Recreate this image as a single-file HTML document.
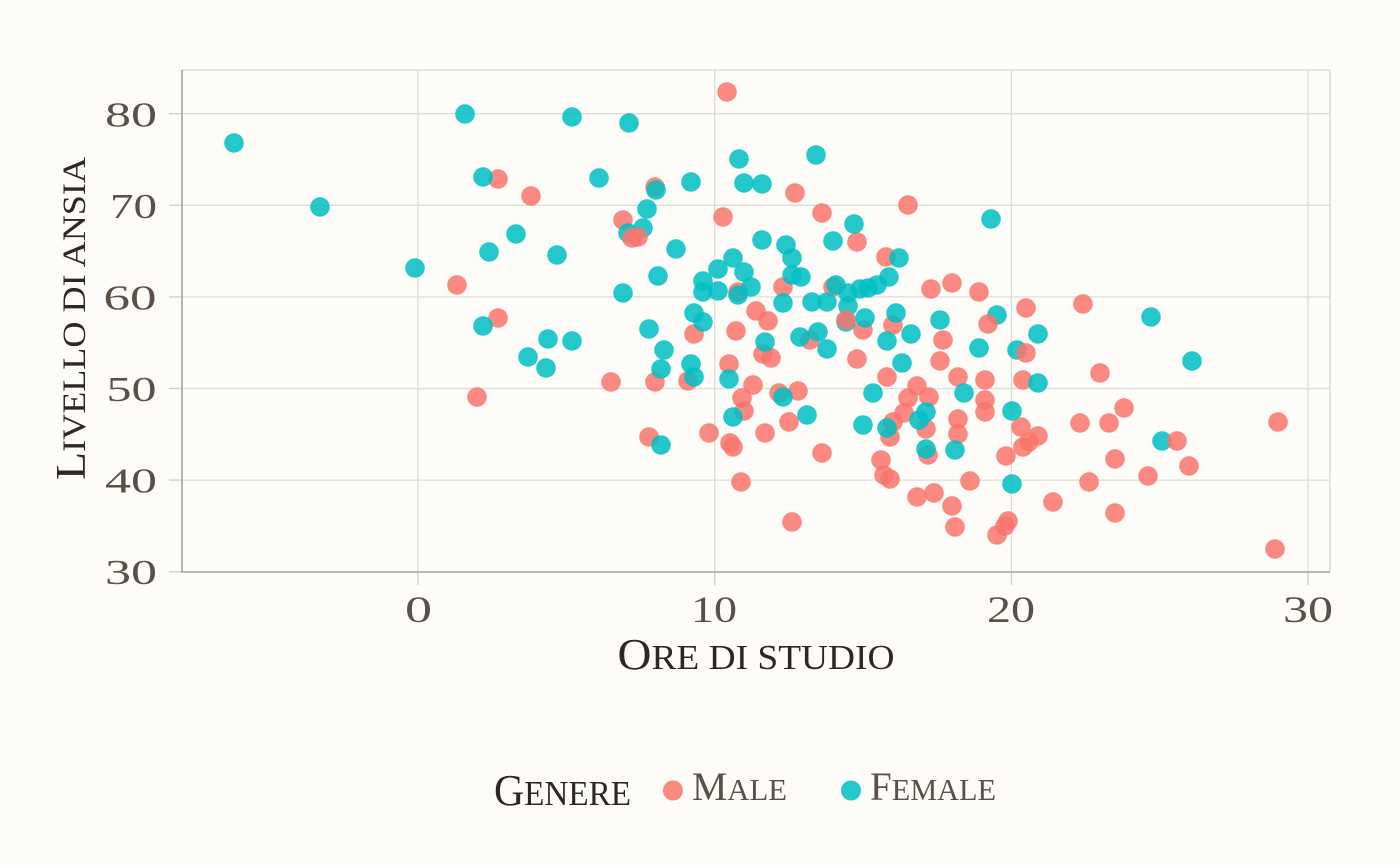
<!DOCTYPE html>
<html>
<head>
<meta charset="utf-8">
<style>
html,body{margin:0;padding:0;background:#fdfcf8;}
svg{display:block;}
text{font-family:"Liberation Serif",serif;}
</style>
</head>
<body>
<svg width="1400" height="865" viewBox="0 0 1400 865" xmlns="http://www.w3.org/2000/svg">
<rect x="0" y="0" width="1400" height="865" fill="#fdfcf8"/>
<g stroke="#dddcd8" stroke-width="1.3">
<line x1="182" y1="113.7" x2="1330" y2="113.7"/>
<line x1="182" y1="205.3" x2="1330" y2="205.3"/>
<line x1="182" y1="296.9" x2="1330" y2="296.9"/>
<line x1="182" y1="388.5" x2="1330" y2="388.5"/>
<line x1="182" y1="480.1" x2="1330" y2="480.1"/>
<line x1="418" y1="70" x2="418" y2="572"/>
<line x1="714.7" y1="70" x2="714.7" y2="572"/>
<line x1="1011.4" y1="70" x2="1011.4" y2="572"/>
<line x1="1308.1" y1="70" x2="1308.1" y2="572"/>
</g>
<g stroke="#d6d5d1" stroke-width="1.3" fill="none">
<line x1="182" y1="70" x2="1330" y2="70"/>
<line x1="1330" y1="70" x2="1330" y2="572"/>
</g>
<g stroke="#cfcecA" stroke-width="1.3">
<line x1="169" y1="113.7" x2="182" y2="113.7"/>
<line x1="169" y1="205.3" x2="182" y2="205.3"/>
<line x1="169" y1="296.9" x2="182" y2="296.9"/>
<line x1="169" y1="388.5" x2="182" y2="388.5"/>
<line x1="169" y1="480.1" x2="182" y2="480.1"/>
<line x1="169" y1="571.7" x2="182" y2="571.7"/>
<line x1="418" y1="572" x2="418" y2="585"/>
<line x1="714.7" y1="572" x2="714.7" y2="585"/>
<line x1="1011.4" y1="572" x2="1011.4" y2="585"/>
<line x1="1308.1" y1="572" x2="1308.1" y2="585"/>
</g>
<g stroke="#adaca8" stroke-width="1.8">
<line x1="182" y1="70" x2="182" y2="572"/>
<line x1="181" y1="572" x2="1330" y2="572"/>
</g>

<g fill="#F8766D" fill-opacity="0.86">
<circle cx="498" cy="179" r="9.8"/><circle cx="531" cy="196" r="9.8"/><circle cx="457" cy="285" r="9.8"/><circle cx="498" cy="318" r="9.8"/>
<circle cx="477" cy="397" r="9.8"/><circle cx="727" cy="92" r="9.8"/><circle cx="655" cy="187" r="9.8"/><circle cx="795" cy="193" r="9.8"/>
<circle cx="623" cy="220" r="9.8"/><circle cx="723" cy="217" r="9.8"/><circle cx="822" cy="213" r="9.8"/><circle cx="857" cy="242" r="9.8"/>
<circle cx="738" cy="292" r="9.8"/><circle cx="783" cy="287" r="9.8"/><circle cx="833" cy="287" r="9.8"/><circle cx="863" cy="330" r="9.8"/>
<circle cx="756" cy="311" r="9.8"/><circle cx="768" cy="321" r="9.8"/><circle cx="694" cy="334" r="9.8"/><circle cx="736" cy="331" r="9.8"/>
<circle cx="688" cy="381" r="9.8"/><circle cx="655" cy="382" r="9.8"/><circle cx="611" cy="382" r="9.8"/><circle cx="763" cy="354" r="9.8"/>
<circle cx="771" cy="358" r="9.8"/><circle cx="810" cy="340" r="9.8"/><circle cx="857" cy="359" r="9.8"/><circle cx="729" cy="364" r="9.8"/>
<circle cx="753" cy="385" r="9.8"/><circle cx="742" cy="398" r="9.8"/><circle cx="744" cy="411" r="9.8"/><circle cx="779" cy="393" r="9.8"/>
<circle cx="798" cy="391" r="9.8"/><circle cx="789" cy="422" r="9.8"/><circle cx="649" cy="437" r="9.8"/><circle cx="709" cy="433" r="9.8"/>
<circle cx="730" cy="443" r="9.8"/><circle cx="733" cy="447" r="9.8"/><circle cx="765" cy="433" r="9.8"/><circle cx="822" cy="453" r="9.8"/>
<circle cx="741" cy="482" r="9.8"/><circle cx="792" cy="522" r="9.8"/><circle cx="908" cy="205" r="9.8"/><circle cx="886" cy="257" r="9.8"/>
<circle cx="931" cy="289" r="9.8"/><circle cx="952" cy="283" r="9.8"/><circle cx="979" cy="292" r="9.8"/><circle cx="1026" cy="308" r="9.8"/>
<circle cx="1083" cy="304" r="9.8"/><circle cx="893" cy="325" r="9.8"/><circle cx="943" cy="340" r="9.8"/><circle cx="940" cy="361" r="9.8"/>
<circle cx="887" cy="377" r="9.8"/><circle cx="958" cy="377" r="9.8"/><circle cx="985" cy="380" r="9.8"/><circle cx="985" cy="400" r="9.8"/>
<circle cx="985" cy="412" r="9.8"/><circle cx="1023" cy="380" r="9.8"/><circle cx="1100" cy="373" r="9.8"/><circle cx="917" cy="386" r="9.8"/>
<circle cx="908" cy="398" r="9.8"/><circle cx="929" cy="397" r="9.8"/><circle cx="904" cy="413" r="9.8"/><circle cx="926" cy="429" r="9.8"/>
<circle cx="893" cy="422" r="9.8"/><circle cx="890" cy="437" r="9.8"/><circle cx="958" cy="419" r="9.8"/><circle cx="958" cy="434" r="9.8"/>
<circle cx="928" cy="455" r="9.8"/><circle cx="1021" cy="427" r="9.8"/><circle cx="1038" cy="436" r="9.8"/><circle cx="1029" cy="442" r="9.8"/>
<circle cx="1023" cy="447" r="9.8"/><circle cx="1006" cy="456" r="9.8"/><circle cx="1080" cy="423" r="9.8"/><circle cx="1109" cy="423" r="9.8"/>
<circle cx="1124" cy="408" r="9.8"/><circle cx="1115" cy="459" r="9.8"/><circle cx="1148" cy="476" r="9.8"/><circle cx="1089" cy="482" r="9.8"/>
<circle cx="1053" cy="502" r="9.8"/><circle cx="1115" cy="513" r="9.8"/><circle cx="881" cy="460" r="9.8"/><circle cx="884" cy="475" r="9.8"/>
<circle cx="890" cy="479" r="9.8"/><circle cx="970" cy="481" r="9.8"/><circle cx="917" cy="497" r="9.8"/><circle cx="934" cy="493" r="9.8"/>
<circle cx="952" cy="506" r="9.8"/><circle cx="955" cy="527" r="9.8"/><circle cx="1008" cy="521" r="9.8"/><circle cx="1005" cy="526" r="9.8"/>
<circle cx="997" cy="535" r="9.8"/><circle cx="1278" cy="422" r="9.8"/><circle cx="1189" cy="466" r="9.8"/><circle cx="1275" cy="549" r="9.8"/>
</g>

<g fill="#00BFC4" fill-opacity="0.86">
<circle cx="234" cy="143" r="9.8"/><circle cx="320" cy="207" r="9.8"/><circle cx="465" cy="114" r="9.8"/><circle cx="572" cy="117" r="9.8"/>
<circle cx="483" cy="177" r="9.8"/><circle cx="516" cy="234" r="9.8"/><circle cx="489" cy="252" r="9.8"/><circle cx="557" cy="255" r="9.8"/>
<circle cx="415" cy="268" r="9.8"/><circle cx="483" cy="326" r="9.8"/><circle cx="548" cy="339" r="9.8"/><circle cx="572" cy="341" r="9.8"/>
<circle cx="528" cy="357" r="9.8"/><circle cx="546" cy="368" r="9.8"/><circle cx="629" cy="123" r="9.8"/><circle cx="739" cy="159" r="9.8"/>
<circle cx="816" cy="155" r="9.8"/><circle cx="599" cy="178" r="9.8"/><circle cx="656" cy="190" r="9.8"/><circle cx="691" cy="182" r="9.8"/>
<circle cx="744" cy="183" r="9.8"/><circle cx="762" cy="184" r="9.8"/><circle cx="647" cy="209" r="9.8"/><circle cx="854" cy="224" r="9.8"/>
<circle cx="628" cy="233" r="9.8"/><circle cx="643" cy="228" r="9.8"/><circle cx="676" cy="249" r="9.8"/><circle cx="762" cy="240" r="9.8"/>
<circle cx="786" cy="245" r="9.8"/><circle cx="792" cy="258" r="9.8"/><circle cx="833" cy="241" r="9.8"/><circle cx="733" cy="258" r="9.8"/>
<circle cx="718" cy="269" r="9.8"/><circle cx="658" cy="276" r="9.8"/><circle cx="744" cy="272" r="9.8"/><circle cx="623" cy="293" r="9.8"/>
<circle cx="703" cy="281" r="9.8"/><circle cx="703" cy="292" r="9.8"/><circle cx="718" cy="291" r="9.8"/><circle cx="738" cy="295" r="9.8"/>
<circle cx="751" cy="287" r="9.8"/><circle cx="792" cy="275" r="9.8"/><circle cx="801" cy="277" r="9.8"/><circle cx="783" cy="303" r="9.8"/>
<circle cx="812" cy="302" r="9.8"/><circle cx="827" cy="302" r="9.8"/><circle cx="836" cy="285" r="9.8"/><circle cx="848" cy="293" r="9.8"/>
<circle cx="860" cy="289" r="9.8"/><circle cx="868" cy="288" r="9.8"/><circle cx="848" cy="306" r="9.8"/><circle cx="846" cy="322" r="9.8"/>
<circle cx="865" cy="318" r="9.8"/><circle cx="694" cy="313" r="9.8"/><circle cx="703" cy="322" r="9.8"/><circle cx="649" cy="329" r="9.8"/>
<circle cx="664" cy="350" r="9.8"/><circle cx="661" cy="369" r="9.8"/><circle cx="691" cy="364" r="9.8"/><circle cx="694" cy="377" r="9.8"/>
<circle cx="765" cy="342" r="9.8"/><circle cx="800" cy="337" r="9.8"/><circle cx="818" cy="332" r="9.8"/><circle cx="827" cy="349" r="9.8"/>
<circle cx="729" cy="379" r="9.8"/><circle cx="733" cy="417" r="9.8"/><circle cx="783" cy="397" r="9.8"/><circle cx="807" cy="415" r="9.8"/>
<circle cx="873" cy="393" r="9.8"/><circle cx="863" cy="425" r="9.8"/><circle cx="661" cy="445" r="9.8"/><circle cx="991" cy="219" r="9.8"/>
<circle cx="899" cy="258" r="9.8"/><circle cx="889" cy="277" r="9.8"/><circle cx="877" cy="285" r="9.8"/><circle cx="896" cy="313" r="9.8"/>
<circle cx="911" cy="334" r="9.8"/><circle cx="887" cy="341" r="9.8"/><circle cx="940" cy="320" r="9.8"/><circle cx="997" cy="315" r="9.8"/>
<circle cx="1038" cy="334" r="9.8"/><circle cx="979" cy="348" r="9.8"/><circle cx="1017" cy="350" r="9.8"/><circle cx="902" cy="363" r="9.8"/>
<circle cx="964" cy="393" r="9.8"/><circle cx="1038" cy="383" r="9.8"/><circle cx="926" cy="412" r="9.8"/><circle cx="919" cy="420" r="9.8"/>
<circle cx="887" cy="428" r="9.8"/><circle cx="955" cy="450" r="9.8"/><circle cx="926" cy="449" r="9.8"/><circle cx="1012" cy="411" r="9.8"/>
<circle cx="1012" cy="484" r="9.8"/><circle cx="1151" cy="317" r="9.8"/><circle cx="1192" cy="361" r="9.8"/><circle cx="1162" cy="441" r="9.8"/>
</g>

<g fill="#F8766D" fill-opacity="0.86">
<circle cx="632" cy="238" r="9.8"/><circle cx="638" cy="237" r="9.8"/><circle cx="846" cy="320" r="9.8"/>
<circle cx="988" cy="324" r="9.8"/><circle cx="1026" cy="353" r="9.8"/><circle cx="1177" cy="441" r="9.8"/>
</g>

<g fill="#5b5048" font-size="35">
<text x="105" y="126.5" textLength="52" lengthAdjust="spacingAndGlyphs">80</text>
<text x="110" y="218" textLength="47" lengthAdjust="spacingAndGlyphs">70</text>
<text x="103.5" y="309.5" textLength="53" lengthAdjust="spacingAndGlyphs">60</text>
<text x="106.5" y="401" textLength="50" lengthAdjust="spacingAndGlyphs">50</text>
<text x="105" y="492.5" textLength="52" lengthAdjust="spacingAndGlyphs">40</text>
<text x="105" y="584" textLength="52" lengthAdjust="spacingAndGlyphs">30</text>
</g>
<g fill="#5b5048" font-size="37">
<text x="405" y="622" textLength="27" lengthAdjust="spacingAndGlyphs">0</text>
<text x="691" y="622" textLength="46" lengthAdjust="spacingAndGlyphs">10</text>
<text x="987" y="622" textLength="48" lengthAdjust="spacingAndGlyphs">20</text>
<text x="1283" y="622" textLength="50" lengthAdjust="spacingAndGlyphs">30</text>
</g>

<text x="617.5" y="669" fill="#2b2724" font-size="44" textLength="277" lengthAdjust="spacingAndGlyphs">O<tspan font-size="35">RE DI STUDIO</tspan></text>
<g transform="translate(85,480) rotate(-90)">
<text x="0" y="0" fill="#2b2724" font-size="42" textLength="323" lengthAdjust="spacingAndGlyphs">L<tspan font-size="33">IVELLO DI ANSIA</tspan></text>
</g>

<text x="494" y="805" fill="#2b2724" font-size="44" textLength="137" lengthAdjust="spacingAndGlyphs">G<tspan font-size="35">ENERE</tspan></text>
<circle cx="673" cy="790.5" r="10" fill="#F8766D" fill-opacity="0.86"/>
<text x="692" y="800" fill="#5b5048" font-size="40" textLength="95" lengthAdjust="spacingAndGlyphs">M<tspan font-size="31">ALE</tspan></text>
<circle cx="851" cy="790.5" r="10" fill="#00BFC4" fill-opacity="0.86"/>
<text x="870" y="800" fill="#5b5048" font-size="40" textLength="126" lengthAdjust="spacingAndGlyphs">F<tspan font-size="31">EMALE</tspan></text>
</svg>
</body>
</html>
